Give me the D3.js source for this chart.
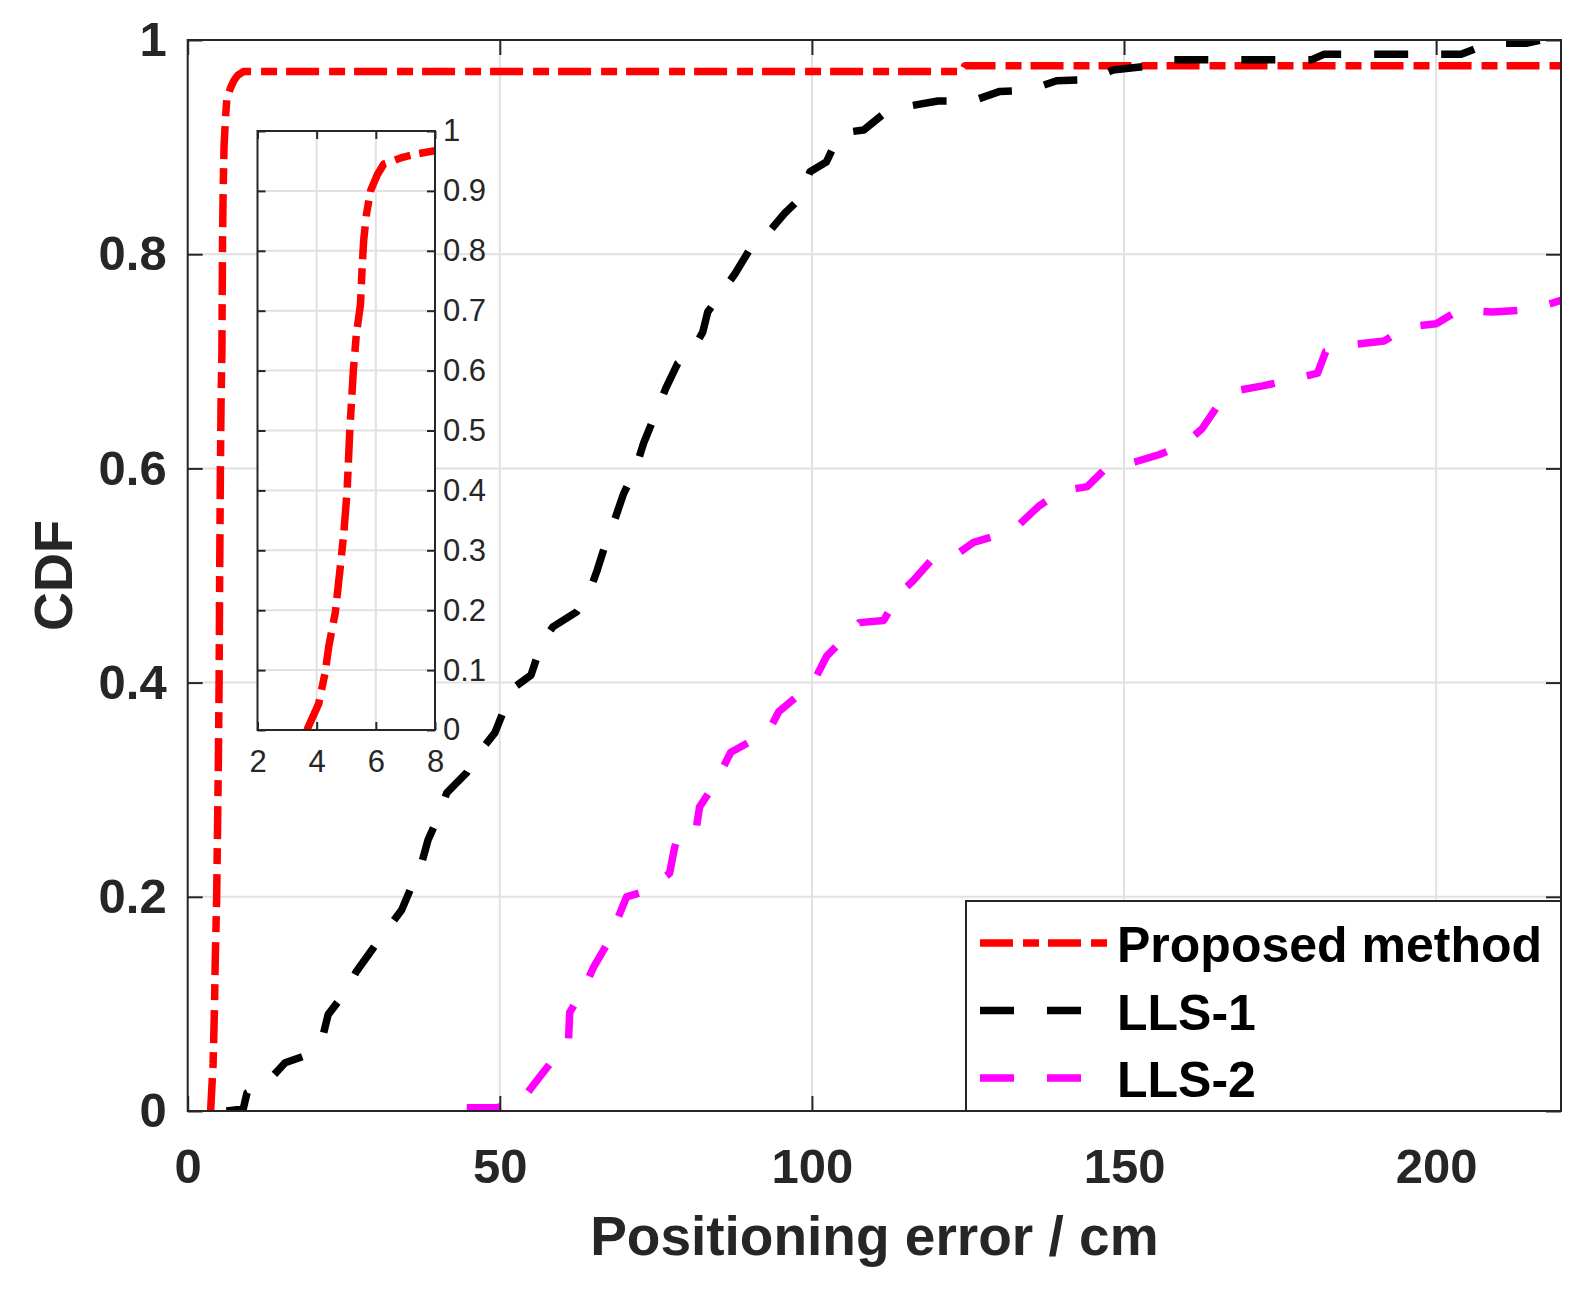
<!DOCTYPE html>
<html>
<head>
<meta charset="utf-8">
<script src="https://cdn.jsdelivr.net/npm/d3@7/dist/d3.min.js"></script>
<style>
  body { margin: 0; background: #fff; }
  text { font-family: "Liberation Sans", Arial, Helvetica, sans-serif; }
</style>
</head>
<body>
<svg id="chart" width="1582" height="1294"></svg>
<script>
// values
const proposedErr = [3.67, 4.07, 4.29, 4.41, 4.63, 4.80, 4.92, 5.03, 5.12, 5.24, 5.34, 5.48, 5.54, 5.59, 5.68, 5.82, 6.05, 6.27, 6.84, 7.4, 8.0, 8.9, 124, 124.5, 220];
const proposedCdf = [0, 0.044, 0.097, 0.14, 0.196, 0.273, 0.33, 0.40, 0.50, 0.60, 0.66, 0.71, 0.775, 0.818, 0.86, 0.90, 0.927, 0.945, 0.955, 0.962, 0.967, 0.9705, 0.9705, 0.976, 0.976];

const lls1Err = [6.2, 8.9, 9.5, 12.6, 15.6, 19, 21.7, 22.5, 25.5, 27, 29.7, 31.6, 34.3, 35.6, 37.5, 38.5, 40.4, 41.5, 44.7, 46.3, 49.2, 50.5, 52.4, 55, 56.7, 58.5, 62.3, 64.2, 65.6, 66.9, 68.4, 69.8, 71.7, 73, 74.6, 76.6, 78.5, 80.6, 82.5, 83.3, 86, 87.7, 90.3, 92.4, 95.6, 97.9, 99.7, 102.3, 104.5, 108.3, 111.9, 115.7, 120.2, 125.7, 130.1, 134.6, 139.2, 144.5, 148.2, 153, 157.3, 180, 182, 204, 208.5, 214.4, 216.8, 220];
const lls1Cdf = [0, 0.002, 0.017, 0.026, 0.045, 0.052, 0.071, 0.09, 0.113, 0.13, 0.152, 0.167, 0.188, 0.206, 0.232, 0.253, 0.278, 0.297, 0.316, 0.332, 0.353, 0.372, 0.396, 0.407, 0.437, 0.452, 0.466, 0.482, 0.505, 0.529, 0.552, 0.576, 0.599, 0.623, 0.646, 0.675, 0.698, 0.708, 0.727, 0.746, 0.768, 0.782, 0.807, 0.816, 0.838, 0.851, 0.877, 0.886, 0.913, 0.916, 0.933, 0.9385, 0.943, 0.943, 0.952, 0.953, 0.962, 0.963, 0.972, 0.975, 0.9815, 0.9815, 0.9866, 0.9866, 0.997, 0.997, 1.0, 1.0];

const lls2Err = [44.7, 49.5, 53.5, 56.4, 58.3, 61, 61.2, 63.6, 65, 67.4, 70.3, 73.7, 77.2, 78, 78.8, 81.5, 82, 84.6, 87, 89.2, 93, 94.7, 98, 100.2, 102.4, 104.8, 107.6, 111.5, 113.8, 116.2, 119.4, 122.8, 125.9, 130, 133.1, 136.4, 140, 144.1, 146.9, 151.7, 155.7, 159.5, 162.5, 164.7, 167.4, 172.2, 176.2, 181, 182.3, 187.1, 191.7, 195.2, 200, 203.7, 209, 214.7, 218.4, 220];
const lls2Cdf = [0.003, 0.003, 0.01, 0.032, 0.046, 0.066, 0.092, 0.116, 0.134, 0.158, 0.2, 0.206, 0.222, 0.246, 0.262, 0.265, 0.284, 0.307, 0.335, 0.342, 0.354, 0.373, 0.389, 0.40, 0.425, 0.439, 0.456, 0.458, 0.482, 0.495, 0.516, 0.518, 0.531, 0.538, 0.547, 0.565, 0.579, 0.583, 0.599, 0.606, 0.613, 0.622, 0.637, 0.656, 0.672, 0.677, 0.682, 0.689, 0.709, 0.716, 0.719, 0.732, 0.735, 0.748, 0.746, 0.748, 0.754, 0.757];

const seriesNames = ['Proposed method', 'LLS-1', 'LLS-2'];
const seriesColors = ['#ff0000', '#000000', '#ff00ff'];
const seriesDash = ['33 10 16 9', '34 33', '34 33'];

const xTicks = [0, 50, 100, 150, 200];
const yTicks = [0, 0.2, 0.4, 0.6, 0.8, 1];
const insetXTicks = [2, 4, 6, 8];
const insetYTicks = [0, 0.1, 0.2, 0.3, 0.4, 0.5, 0.6, 0.7, 0.8, 0.9, 1];

const series = [
  d3.zip(proposedErr, proposedCdf),
  d3.zip(lls1Err, lls1Cdf),
  d3.zip(lls2Err, lls2Cdf)
];

const axisColor = '#262626';
const gridColor = '#e1e1e1';
const svg = d3.select('#chart');

// main axes
const box = {left: 187.7, right: 1561, top: 40, bottom: 1111};
const x = d3.scaleLinear().domain([0, 220]).range([box.left, box.right]);
const y = d3.scaleLinear().domain([0, 1]).range([box.bottom, box.top]);

svg.append('defs').append('clipPath').attr('id', 'mainClip')
  .append('rect')
  .attr('x', box.left).attr('y', box.top)
  .attr('width', box.right - box.left).attr('height', box.bottom - box.top);

const grid = svg.append('g').attr('class', 'grid');
grid.selectAll('.gx').data(xTicks.filter(d => d > 0)).enter().append('line')
  .attr('x1', d => x(d)).attr('x2', d => x(d))
  .attr('y1', box.top).attr('y2', box.bottom)
  .attr('stroke', gridColor).attr('stroke-width', 2);
grid.selectAll('.gy').data(yTicks.filter(d => d > 0 && d < 1)).enter().append('line')
  .attr('y1', d => y(d)).attr('y2', d => y(d))
  .attr('x1', box.left).attr('x2', box.right)
  .attr('stroke', gridColor).attr('stroke-width', 2);

const line = (sx, sy) => d3.line().x(d => sx(d[0])).y(d => sy(d[1]));

const plotLines = svg.append('g').attr('clip-path', 'url(#mainClip)');
series.forEach((s, i) => {
  plotLines.append('path')
    .datum(s)
    .attr('d', line(x, y))
    .attr('fill', 'none')
    .attr('stroke', seriesColors[i])
    .attr('stroke-width', 7.5)
    .attr('stroke-linejoin', 'round')
    .attr('stroke-dasharray', seriesDash[i]);
});

const styleAxis = (g, fontSize, weight) => {
  g.select('.domain').remove();
  g.selectAll('.tick line').attr('stroke', axisColor).attr('stroke-width', 2);
  g.selectAll('.tick text')
    .attr('fill', axisColor)
    .attr('font-size', fontSize)
    .attr('font-weight', weight);
};

const fmt = d3.format('~g');

svg.append('g')
  .attr('transform', `translate(0, ${box.bottom})`)
  .call(d3.axisBottom(x).tickValues(xTicks).tickFormat(fmt).tickSizeInner(-15).tickSizeOuter(0).tickPadding(37))
  .call(g => styleAxis(g, 49, 'bold'));
svg.append('g')
  .attr('transform', `translate(0, ${box.top})`)
  .call(d3.axisTop(x).tickValues(xTicks).tickFormat('').tickSizeInner(-15).tickSizeOuter(0))
  .call(g => styleAxis(g, 49, 'bold'));
svg.append('g')
  .attr('transform', `translate(${box.left}, 0)`)
  .call(d3.axisLeft(y).tickValues(yTicks).tickFormat(fmt).tickSizeInner(-15).tickSizeOuter(0).tickPadding(21))
  .call(g => styleAxis(g, 49, 'bold'));
svg.append('g')
  .attr('transform', `translate(${box.right}, 0)`)
  .call(d3.axisRight(y).tickValues(yTicks).tickFormat('').tickSizeInner(-15).tickSizeOuter(0))
  .call(g => styleAxis(g, 49, 'bold'));

svg.append('rect')
  .attr('x', box.left).attr('y', box.top)
  .attr('width', box.right - box.left).attr('height', box.bottom - box.top)
  .attr('fill', 'none').attr('stroke', axisColor).attr('stroke-width', 2);

svg.append('text')
  .attr('x', (box.left + box.right) / 2).attr('y', 1255)
  .attr('text-anchor', 'middle')
  .attr('font-size', 55).attr('font-weight', 'bold').attr('fill', axisColor)
  .text('Positioning error / cm');
svg.append('text')
  .attr('transform', `translate(72, ${(box.top + box.bottom) / 2}) rotate(-90)`)
  .attr('text-anchor', 'middle')
  .attr('font-size', 54).attr('font-weight', 'bold').attr('fill', axisColor)
  .text('CDF');

// inset
const ibox = {left: 257.5, right: 435, top: 131, bottom: 730};
const ix = d3.scaleLinear().domain([2, 8]).range([ibox.left, ibox.right]);
const iy = d3.scaleLinear().domain([0, 1]).range([ibox.bottom, ibox.top]);

svg.select('defs').append('clipPath').attr('id', 'insetClip')
  .append('rect')
  .attr('x', ibox.left).attr('y', ibox.top)
  .attr('width', ibox.right - ibox.left).attr('height', ibox.bottom - ibox.top);

const inset = svg.append('g');
inset.append('rect')
  .attr('x', ibox.left).attr('y', ibox.top)
  .attr('width', ibox.right - ibox.left).attr('height', ibox.bottom - ibox.top)
  .attr('fill', '#fff');
inset.selectAll('.igx').data(insetXTicks.slice(1, -1)).enter().append('line')
  .attr('x1', d => ix(d)).attr('x2', d => ix(d))
  .attr('y1', ibox.top).attr('y2', ibox.bottom)
  .attr('stroke', gridColor).attr('stroke-width', 2);
inset.selectAll('.igy').data(insetYTicks.slice(1, -1)).enter().append('line')
  .attr('y1', d => iy(d)).attr('y2', d => iy(d))
  .attr('x1', ibox.left).attr('x2', ibox.right)
  .attr('stroke', gridColor).attr('stroke-width', 2);

inset.append('g').attr('clip-path', 'url(#insetClip)')
  .append('path')
  .datum(series[0])
  .attr('d', line(ix, iy))
  .attr('fill', 'none')
  .attr('stroke', seriesColors[0])
  .attr('stroke-width', 7.5)
  .attr('stroke-linejoin', 'round')
  .attr('stroke-dasharray', seriesDash[0]);

inset.append('g')
  .attr('transform', `translate(0, ${ibox.bottom})`)
  .call(d3.axisBottom(ix).tickValues(insetXTicks).tickFormat(fmt).tickSizeInner(-8).tickSizeOuter(0).tickPadding(20))
  .call(g => styleAxis(g, 31, 'normal'));
inset.append('g')
  .attr('transform', `translate(0, ${ibox.top})`)
  .call(d3.axisTop(ix).tickValues(insetXTicks).tickFormat('').tickSizeInner(-8).tickSizeOuter(0))
  .call(g => styleAxis(g, 31, 'normal'));
inset.append('g')
  .attr('transform', `translate(${ibox.right}, 0)`)
  .call(d3.axisRight(iy).tickValues(insetYTicks).tickFormat(fmt).tickSizeInner(-8).tickSizeOuter(0).tickPadding(8))
  .call(g => styleAxis(g, 31, 'normal'));
inset.append('g')
  .attr('transform', `translate(${ibox.left}, 0)`)
  .call(d3.axisLeft(iy).tickValues(insetYTicks).tickFormat('').tickSizeInner(-8).tickSizeOuter(0))
  .call(g => styleAxis(g, 31, 'normal'));
inset.append('rect')
  .attr('x', ibox.left).attr('y', ibox.top)
  .attr('width', ibox.right - ibox.left).attr('height', ibox.bottom - ibox.top)
  .attr('fill', 'none').attr('stroke', axisColor).attr('stroke-width', 2);

// legend
const legend = svg.append('g');
legend.append('rect')
  .attr('x', 966).attr('y', 901)
  .attr('width', box.right - 966).attr('height', box.bottom - 901)
  .attr('fill', '#fff').attr('stroke', axisColor).attr('stroke-width', 2);
const rows = legend.selectAll('.row').data(seriesNames).enter().append('g')
  .attr('transform', (d, i) => `translate(0, ${943 + i * 67.5})`);
rows.append('line')
  .attr('x1', 980).attr('x2', 1107).attr('y1', 0).attr('y2', 0)
  .attr('stroke', (d, i) => seriesColors[i])
  .attr('stroke-width', 7.5)
  .attr('stroke-dasharray', (d, i) => seriesDash[i]);
rows.append('text')
  .attr('x', 1117).attr('y', 19)
  .attr('font-size', 50).attr('font-weight', 'bold').attr('fill', '#000')
  .text(d => d);
</script>
</body>
</html>
